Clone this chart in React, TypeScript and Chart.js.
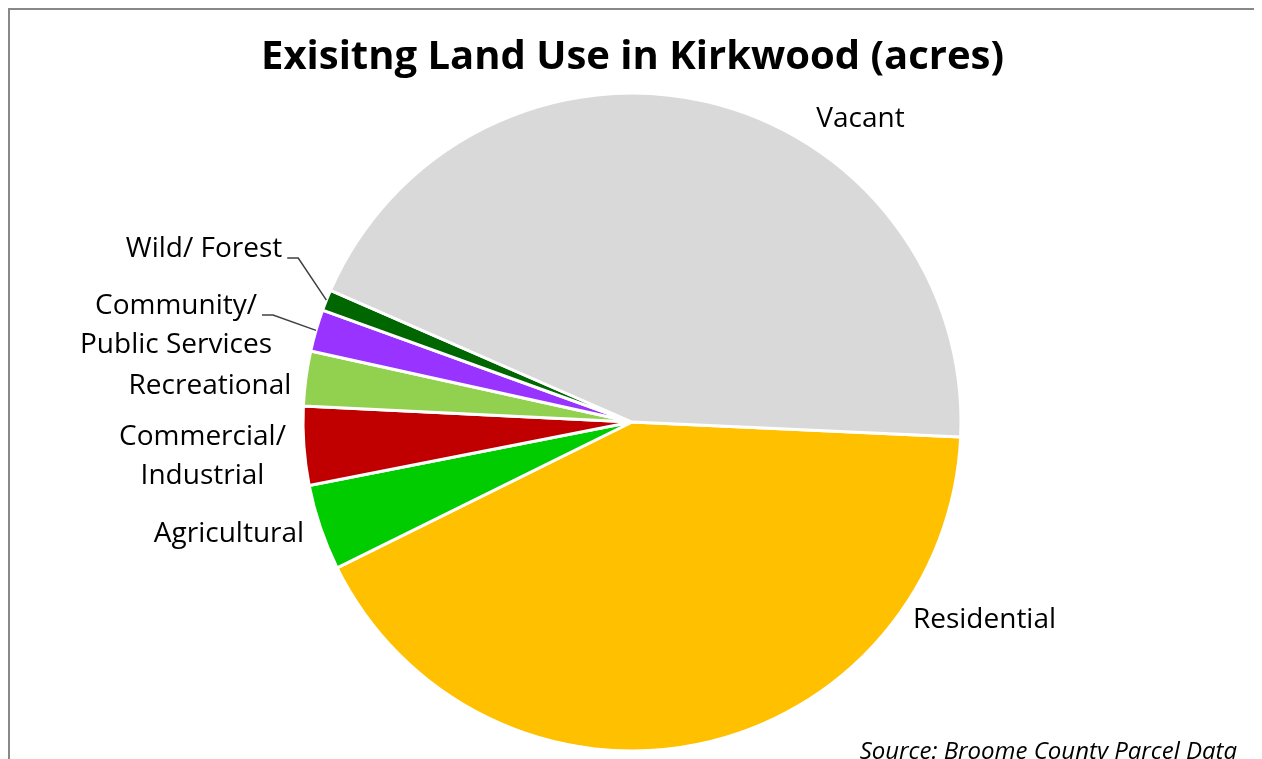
import React, { useEffect, useRef } from "react";
import { Chart, registerables } from "chart.js";

Chart.register(...registerables);

const titleText = "Exisitng Land Use in Kirkwood (acres)";
const sourceText = "Source: Broome County Parcel Data";
const categories = [
  "Residential",
  "Agricultural",
  "Commercial/ Industrial",
  "Recreational",
  "Community/ Public Services",
  "Wild/ Forest",
  "Vacant",
];
const labelLines = [
  ["Residential"],
  ["Agricultural"],
  ["Commercial/", "Industrial"],
  ["Recreational"],
  ["Community/", "Public Services"],
  ["Wild/ Forest"],
  ["Vacant"],
];
// share of total acreage (percent)
const acres = [41.97, 4.22, 3.86, 2.69, 2.06, 1.03, 44.17];
const colors = ["#FFC000", "#00CC00", "#C00000", "#92D050", "#9933FF", "#006600", "#D9D9D9"];

// label placement relative to pie centre: [dx of text centre, dy of first baseline]
const labelOffsets = [
  [352.5, 206],
  [-403, 120],
  [-429.5, 23],
  [-422, -28],
  [-456, -108],
  [-428, -165],
  [228.5, -295],
];
const hasLeader = [false, false, false, false, true, true, false];

const FONT = "'Open Sans', sans-serif";
const LABEL_SIZE = 28;
const LINE_H = 39;

const labelPlugin = {
  id: "pieLabels",
  afterDatasetsDraw(chart: any) {
    const ctx = chart.ctx;
    const meta = chart.getDatasetMeta(0);
    ctx.save();
    // title
    ctx.fillStyle = "#000";
    ctx.textAlign = "center";
    ctx.textBaseline = "alphabetic";
    ctx.font = `bold 40px ${FONT}`;
    ctx.fillText(titleText, chart.width / 2 - 0.5, 59);

    ctx.font = `${LABEL_SIZE}px ${FONT}`;
    meta.data.forEach((arc: any, i: number) => {
      const p = arc.getProps(["x", "y", "startAngle", "endAngle", "outerRadius"], true);
      const [dx, dy] = labelOffsets[i];
      const cx = p.x + dx;
      const by = p.y + dy;
      const lines = labelLines[i];
      ctx.fillStyle = "#000";
      ctx.textAlign = "center";
      lines.forEach((t: string, k: number) => {
        ctx.fillText(t, cx, by + k * LINE_H);
      });
      if (hasLeader[i]) {
        const w = ctx.measureText(lines[0]).width;
        const sx = cx + w / 2 + 5;
        const sy = by + 1;
        const mid = (p.startAngle + p.endAngle) / 2;
        const ex = p.x + Math.cos(mid) * p.outerRadius;
        const ey = p.y + Math.sin(mid) * p.outerRadius;
        ctx.strokeStyle = "#404040";
        ctx.lineWidth = 1.5;
        ctx.beginPath();
        ctx.moveTo(sx, sy);
        ctx.lineTo(sx + 11, sy);
        ctx.lineTo(ex, ey);
        ctx.stroke();
      }
    });

    // source note
    ctx.font = `italic 24px ${FONT}`;
    ctx.textAlign = "right";
    ctx.fillStyle = "#000";
    ctx.fillText(sourceText, 1227, 749);
    ctx.restore();
  },
};

export default function App() {
  const ref = useRef<HTMLCanvasElement | null>(null);
  useEffect(() => {
    document.documentElement.style.overflow = "hidden";
    document.body.style.overflow = "hidden";
    const canvas = ref.current!;
    const chart = new Chart(canvas, {
      type: "pie",
      data: {
        labels: categories,
        datasets: [
          {
            data: acres,
            backgroundColor: colors,
            borderColor: "#FFFFFF",
            borderWidth: 3,
          },
        ],
      },
      options: {
        animation: false,
        responsive: false,
        rotation: 92.6,
        radius: 329,
        layout: { padding: { left: 100, right: 102, top: 100, bottom: 76 } },
        plugins: {
          legend: { display: false },
          title: { display: false },
          tooltip: { enabled: false },
        },
      },
      plugins: [labelPlugin],
    });
    return () => chart.destroy();
  }, []);
  return (
    <div
      style={{
        width: 1246,
        height: 800,
        border: "2px solid #888888",
        background: "#FFFFFF",
        position: "relative",
      }}
    >
      <canvas ref={ref} width={1246} height={800} style={{ display: "block" }} />
    </div>
  );
}
